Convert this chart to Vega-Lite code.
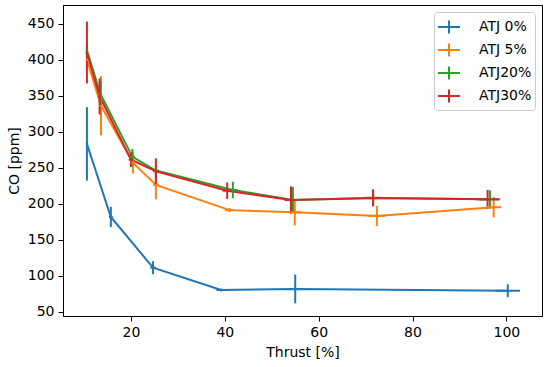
{
  "$schema": "https://vega.github.io/schema/vega-lite/v6.json",
  "autosize": {"type": "none"},
  "width": 479,
  "height": 311,
  "padding": {"left": 63, "top": 5, "right": 8, "bottom": 51},
  "background": "white",
  "config": {
    "font": "DejaVu Sans",
    "view": {"stroke": "black", "strokeWidth": 1},
    "axis": {
      "grid": false,
      "domainColor": "black",
      "tickColor": "black",
      "tickSize": 5,
      "labelColor": "black",
      "labelFont": "DejaVu Sans",
      "labelFontSize": 14,
      "labelOverlap": false,
      "titleFont": "DejaVu Sans",
      "titleFontSize": 14,
      "titleFontWeight": "normal",
      "titleColor": "black",
      "labelPadding": 4
    },
    "legend": {
      "labelFont": "DejaVu Sans",
      "labelFontSize": 14,
      "labelColor": "black"
    }
  },
  "data": {
    "values": [
      {"series": "ATJ 0%", "thrust": 10.6, "co": 283, "co_lo": 232, "co_hi": 334, "t_lo": 10.35, "t_hi": 10.85},
      {"series": "ATJ 0%", "thrust": 15.7, "co": 181.5, "co_lo": 167.5, "co_hi": 195.5, "t_lo": 15.3, "t_hi": 16.1},
      {"series": "ATJ 0%", "thrust": 24.7, "co": 111, "co_lo": 102, "co_hi": 120, "t_lo": 24.1, "t_hi": 25.3},
      {"series": "ATJ 0%", "thrust": 39.2, "co": 80, "co_lo": 78, "co_hi": 82, "t_lo": 38.2, "t_hi": 40.2},
      {"series": "ATJ 0%", "thrust": 55.0, "co": 81.5, "co_lo": 61.5, "co_hi": 101.5, "t_lo": 53.6, "t_hi": 56.4},
      {"series": "ATJ 0%", "thrust": 100.3, "co": 79, "co_lo": 70, "co_hi": 88, "t_lo": 97.7, "t_hi": 102.9},
      {"series": "ATJ 5%", "thrust": 10.6, "co": 400, "co_lo": 388, "co_hi": 412, "t_lo": 10.35, "t_hi": 10.85},
      {"series": "ATJ 5%", "thrust": 13.6, "co": 336, "co_lo": 295, "co_hi": 377, "t_lo": 13.25, "t_hi": 13.95},
      {"series": "ATJ 5%", "thrust": 20.4, "co": 257, "co_lo": 242, "co_hi": 272, "t_lo": 19.9, "t_hi": 20.9},
      {"series": "ATJ 5%", "thrust": 25.3, "co": 226, "co_lo": 206, "co_hi": 246, "t_lo": 24.7, "t_hi": 25.9},
      {"series": "ATJ 5%", "thrust": 41.0, "co": 191, "co_lo": 188, "co_hi": 194, "t_lo": 40.0, "t_hi": 42.0},
      {"series": "ATJ 5%", "thrust": 54.9, "co": 188, "co_lo": 170, "co_hi": 206, "t_lo": 53.5, "t_hi": 56.3},
      {"series": "ATJ 5%", "thrust": 72.4, "co": 183, "co_lo": 169, "co_hi": 197, "t_lo": 70.6, "t_hi": 74.2},
      {"series": "ATJ 5%", "thrust": 97.3, "co": 195, "co_lo": 181, "co_hi": 209, "t_lo": 95.7, "t_hi": 98.9},
      {"series": "ATJ20%", "thrust": 10.6, "co": 413, "co_lo": 403, "co_hi": 423, "t_lo": 10.35, "t_hi": 10.85},
      {"series": "ATJ20%", "thrust": 13.5, "co": 352, "co_lo": 334, "co_hi": 370, "t_lo": 13.15, "t_hi": 13.85},
      {"series": "ATJ20%", "thrust": 20.3, "co": 265, "co_lo": 254, "co_hi": 276, "t_lo": 19.8, "t_hi": 20.8},
      {"series": "ATJ20%", "thrust": 25.3, "co": 246, "co_lo": 238, "co_hi": 254, "t_lo": 24.7, "t_hi": 25.9},
      {"series": "ATJ20%", "thrust": 41.7, "co": 219, "co_lo": 207.5, "co_hi": 230.5, "t_lo": 40.7, "t_hi": 42.7},
      {"series": "ATJ20%", "thrust": 54.5, "co": 205, "co_lo": 187, "co_hi": 223, "t_lo": 53.1, "t_hi": 55.9},
      {"series": "ATJ20%", "thrust": 71.6, "co": 208, "co_lo": 198, "co_hi": 218, "t_lo": 69.8, "t_hi": 73.4},
      {"series": "ATJ20%", "thrust": 96.5, "co": 206, "co_lo": 193.5, "co_hi": 218.5, "t_lo": 94.3, "t_hi": 98.7},
      {"series": "ATJ30%", "thrust": 10.6, "co": 410, "co_lo": 367, "co_hi": 453, "t_lo": 10.35, "t_hi": 10.85},
      {"series": "ATJ30%", "thrust": 13.3, "co": 349, "co_lo": 324, "co_hi": 374, "t_lo": 12.95, "t_hi": 13.65},
      {"series": "ATJ30%", "thrust": 20.0, "co": 261, "co_lo": 251, "co_hi": 271, "t_lo": 19.5, "t_hi": 20.5},
      {"series": "ATJ30%", "thrust": 25.3, "co": 245, "co_lo": 227, "co_hi": 263, "t_lo": 24.7, "t_hi": 25.9},
      {"series": "ATJ30%", "thrust": 40.5, "co": 218, "co_lo": 206.5, "co_hi": 229.5, "t_lo": 39.5, "t_hi": 41.5},
      {"series": "ATJ30%", "thrust": 54.1, "co": 205, "co_lo": 186, "co_hi": 224, "t_lo": 52.7, "t_hi": 55.5},
      {"series": "ATJ30%", "thrust": 71.6, "co": 208, "co_lo": 196, "co_hi": 220, "t_lo": 69.8, "t_hi": 73.4},
      {"series": "ATJ30%", "thrust": 96.0, "co": 206, "co_lo": 193, "co_hi": 219, "t_lo": 93.6, "t_hi": 98.4}
    ]
  },
  "encoding": {
    "color": {
      "field": "series",
      "type": "nominal",
      "scale": {
        "domain": ["ATJ 0%", "ATJ 5%", "ATJ20%", "ATJ30%"],
        "range": ["#1f77b4", "#ff7f0e", "#2ca02c", "#d62728"]
      },
      "legend": {
        "title": null,
        "orient": "top-right",
        "offset": 7,
        "symbolType": "M-1,0H1M0,-0.6V0.6",
        "symbolSize": 484,
        "symbolStrokeWidth": 2,
        "symbolFillColor": "transparent",
        "labelOffset": 18,
        "rowPadding": 0,
        "padding": 3,
        "strokeColor": "#cccccc",
        "fillColor": "white",
        "cornerRadius": 3
      }
    }
  },
  "layer": [
    {
      "mark": {"type": "line", "strokeWidth": 2},
      "encoding": {
        "x": {
          "field": "thrust",
          "type": "quantitative",
          "title": "Thrust [%]",
          "scale": {"domain": [5.5, 107.6], "nice": false, "zero": false},
          "axis": {"values": [20, 40, 60, 80, 100], "tickCount": 10, "titlePadding": 6}
        },
        "y": {
          "field": "co",
          "type": "quantitative",
          "title": "CO [ppm]",
          "scale": {"domain": [43.9, 476], "nice": false, "zero": false},
          "axis": {"values": [50, 100, 150, 200, 250, 300, 350, 400, 450], "tickCount": 12, "labelOverlap": false, "titlePadding": 6}
        },
        "order": {"field": "thrust", "type": "quantitative"}
      }
    },
    {
      "mark": {"type": "rule", "strokeWidth": 2},
      "encoding": {
        "x": {"field": "thrust", "type": "quantitative"},
        "y": {"field": "co_lo", "type": "quantitative"},
        "y2": {"field": "co_hi"}
      }
    },
    {
      "mark": {"type": "rule", "strokeWidth": 2},
      "encoding": {
        "y": {"field": "co", "type": "quantitative"},
        "x": {"field": "t_lo", "type": "quantitative"},
        "x2": {"field": "t_hi"}
      }
    }
  ]
}
